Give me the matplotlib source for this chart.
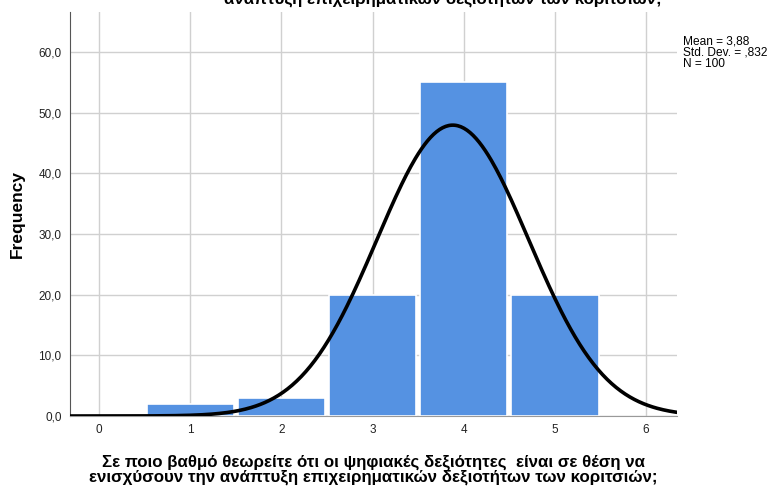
import matplotlib.pyplot as plt
import numpy as np

plt.rcParams['font.family'] = ['Liberation Sans', 'DejaVu Sans']

# histogram data (scale 1..5)
values = [1, 2, 3, 4, 5]
counts = [2, 3, 20, 55, 20]
mean = 3.88
std = 0.832
n = 100

fig = plt.figure(figsize=(7.7, 4.86), dpi=100)
ax = fig.add_axes([70/770, 1-416/486, 607/770, 404/486])

ax.bar(values, counts, width=0.96, color='#5592e2', edgecolor='white',
       linewidth=1.2, zorder=2)

xs = np.linspace(-0.32, 6.34, 400)
pdf = n * np.exp(-0.5*((xs-mean)/std)**2) / (std*np.sqrt(2*np.pi))
ax.plot(xs, pdf, color='black', lw=2.6, zorder=3)

ax.set_xlim(-0.32, 6.34)
ax.set_ylim(0, 66.6)
ax.set_xticks(range(0, 7))
ax.set_yticks(np.arange(0, 61, 10))
ax.set_yticklabels(['%d,0' % v for v in range(0, 61, 10)])
ax.tick_params(length=0, labelsize=8.5, colors='#222222', pad=6)
ax.grid(True, color='#d0d0d0', lw=1, zorder=0)
ax.set_axisbelow(True)
for s in ['top', 'right']:
    ax.spines[s].set_visible(False)
ax.spines['left'].set_color('#555555')
ax.spines['bottom'].set_color('#999999')

ax.set_ylabel('Frequency', fontsize=12.5, fontweight='bold', labelpad=10)
ax.set_xlabel('Σε ποιο βαθμό θεωρείτε ότι οι ψηφιακές δεξιότητες  είναι σε θέση να\n'
              'ενισχύσουν την ανάπτυξη επιχειρηματικών δεξιοτήτων των κοριτσιών;',
              fontsize=12.2, fontweight='bold', labelpad=13, linespacing=0.95)

fig.text(683/770, 1-35/486, 'Mean = 3,88\nStd. Dev. = ,832\nN = 100',
         fontsize=8.6, va='top', ha='left', linespacing=0.95)

fig.text(443/770, 1-4/486,
         'ανάπτυξη επιχειρηματικών δεξιοτήτων των κοριτσιών;',
         fontsize=12.2, fontweight='bold', ha='center', va='baseline')

fig.savefig('out.png', dpi=100)
